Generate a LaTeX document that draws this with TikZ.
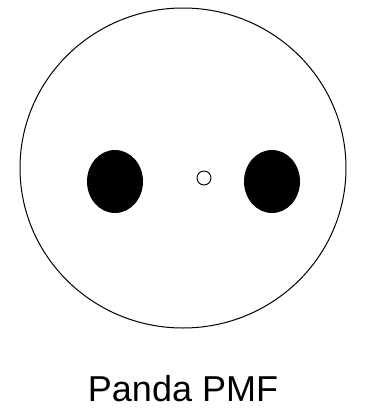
\documentclass[tikz,border=0pt]{standalone}
\usepackage{fontspec}
\setmainfont{Liberation Sans}
\usetikzlibrary{shapes.geometric}
\begin{document}
\begin{tikzpicture}[x=1pt,y=-1pt,
  face/.style={draw=black,line width=1pt,ellipse,inner sep=0pt,minimum width=326pt,minimum height=320pt},
  eye/.style={fill=black,draw=none,ellipse,inner sep=0pt,minimum width=56pt,minimum height=63pt},
  nose/.style={draw=black,line width=0.9pt,circle,inner sep=0pt,minimum size=14pt},
  caption/.style={font=\fontsize{36}{40}\selectfont,inner sep=0pt,anchor=base}]
\useasboundingbox (0,0) rectangle (367,415);
\node[face] (face) at (183,168) {};
\node[eye] (lefteye) at (115,181.5) {};
\node[eye] (righteye) at (272,181.5) {};
\node[nose] (nose) at (204,178) {};
\node[caption] (label) at (183,401) {Panda PMF};
\end{tikzpicture}
\end{document}
